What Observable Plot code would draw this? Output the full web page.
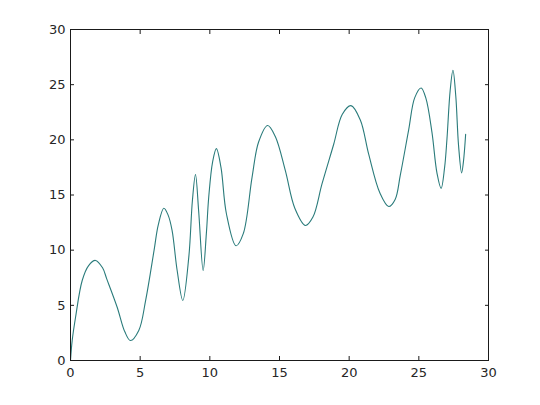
<!DOCTYPE html>
<html>
<head>
<meta charset="utf-8">
<script src="https://cdn.jsdelivr.net/npm/d3@7"></script>
<script src="https://cdn.jsdelivr.net/npm/@observablehq/plot@0.6"></script>
<style>
  html, body { margin: 0; padding: 0; background: #fff; }
  #chart { width: 540px; height: 405px; }
</style>
</head>
<body>
<div id="chart"></div>
<script>
const xs = [0, 0.12, 0.36, 0.84, 1.3, 1.79, 2.3, 2.6, 3.35, 3.9, 4.3, 4.9, 5.4, 6.0, 6.3,
  6.7, 7.0, 7.29, 7.65, 8.06, 8.49, 8.75, 8.97, 9.2, 9.52, 9.75, 9.92, 10.2, 10.47, 10.8, 11.19, 11.88,
  12.4, 13.03, 13.5, 14.15, 14.7, 15.42, 16.1, 16.86, 17.4, 18.05, 18.89, 19.5, 20.13, 20.8, 21.4, 22.2, 22.84,
  23.3, 23.67, 24.27, 24.7, 25.16, 25.5, 25.94, 26.3, 26.6, 26.85, 27.02, 27.25, 27.45, 27.65, 27.85, 28.07, 28.2, 28.36];
const ys = [0, 1.8, 3.9, 7.25, 8.6, 9.07, 8.4, 7.4, 4.83, 2.6, 1.81, 2.72, 5.5, 10.0, 12.3,
  13.8, 13.2, 11.8, 8.2, 5.44, 9.37, 14.5, 16.86, 13.5, 8.16, 11.5, 14.8, 18.0, 19.2, 17.5, 13.3, 10.4,
  11.5, 16.6, 19.8, 21.3, 20.3, 17.2, 13.8, 12.24, 13.0, 16.0, 19.6, 22.3, 23.1, 21.8, 18.7, 15.2, 13.96,
  14.6, 16.8, 20.9, 23.8, 24.7, 23.8, 20.7, 17.0, 15.6, 17.5, 20.1, 24.5, 26.3, 24.0, 19.5, 17.0, 18.0, 20.5];
const xTicks = [0, 5, 10, 15, 20, 25, 30];
const yTicks = [0, 5, 10, 15, 20, 25, 30];

const data = xs.map((x, i) => ({x, y: ys[i]}));
const axisColor = "#1a1a1a";

const chart = Plot.plot({
  width: 540,
  height: 405,
  marginLeft: 70,
  marginRight: 52,
  marginTop: 29,
  marginBottom: 45,
  style: {fontFamily: "DejaVu Sans", fontSize: "13px", color: "#262626", background: "#fff"},
  x: {domain: [0, 30]},
  y: {domain: [0, 30]},
  marks: [
    Plot.line(data, {x: "x", y: "y", stroke: "#2a7b7b", strokeWidth: 1.1, curve: "catmull-rom"}),
    Plot.axisX(xTicks, {anchor: "bottom", tickSize: 0, tickPadding: 7, label: null, fill: "#262626"}),
    Plot.axisY(yTicks, {anchor: "left", tickSize: 0, tickPadding: 5, label: null, fill: "#262626"}),
    Plot.axisX(xTicks, {anchor: "bottom", tickSize: -4, text: null, label: null, stroke: axisColor}),
    Plot.axisX(xTicks, {anchor: "top", tickSize: -4, text: null, label: null, stroke: axisColor}),
    Plot.axisY(yTicks, {anchor: "left", tickSize: -4, text: null, label: null, stroke: axisColor}),
    Plot.axisY(yTicks, {anchor: "right", tickSize: -4, text: null, label: null, stroke: axisColor}),
    Plot.frame({stroke: axisColor, strokeWidth: 1})
  ]
});
document.getElementById("chart").appendChild(chart);
</script>
</body>
</html>
